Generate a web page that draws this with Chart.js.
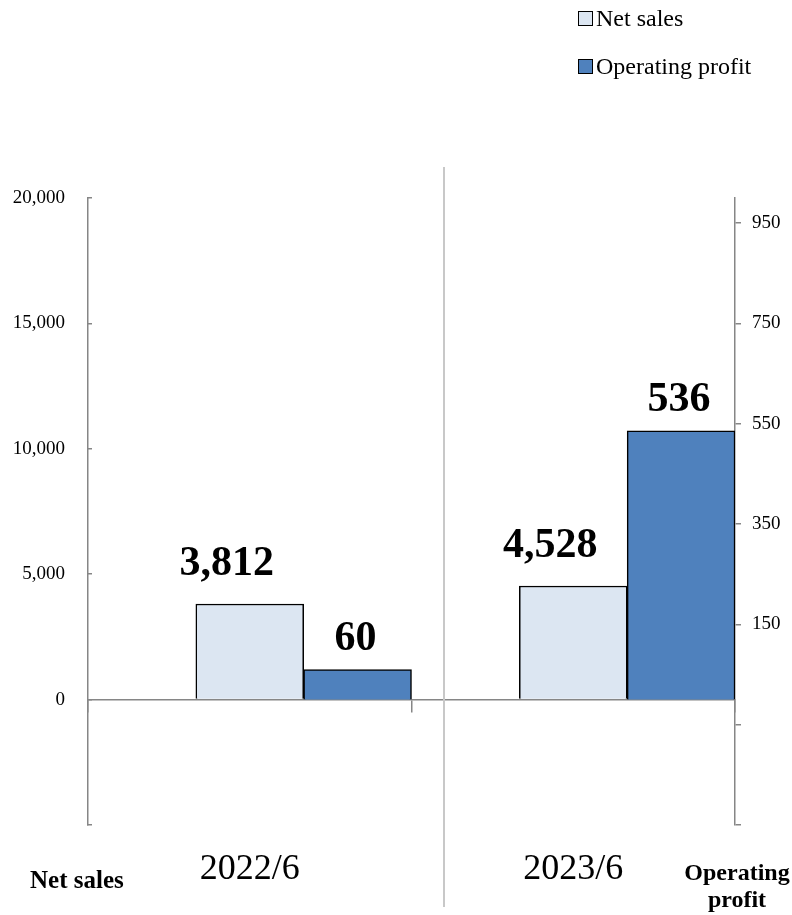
<!DOCTYPE html>
<html>
<head>
<meta charset="utf-8">
<script src="https://cdn.jsdelivr.net/npm/chart.js@4.4.1/dist/chart.umd.min.js"></script>
<style>
  html, body { margin: 0; padding: 0; background: #fff; }
  #wrap { position: relative; width: 792px; height: 915px; }
  #legend {
    position: absolute; left: 578px; top: -6px;
    list-style: none; margin: 0; padding: 0;
    font: 24px "Liberation Serif", "Times New Roman", serif; color: #000;
  }
  #legend li { height: 48px; line-height: 48px; white-space: nowrap; }
  #legend .box {
    display: inline-block; width: 15px; height: 15px; box-sizing: border-box;
    border: 1.5px solid #000; margin-right: 3px;
  }
</style>
</head>
<body>
<div id="wrap">
  <canvas id="resultsChart"></canvas>
  <ul id="legend"></ul>
</div>
<script>
// Periods and results (net sales / operating profit, million yen)
const periods = ['2022/6', '2023/6'];
const netSales = [3812, 4528];
const operatingProfit = [60, 536];

// Axis ticks: left = net sales, right = operating profit
const salesTicks = [-5000, 0, 5000, 10000, 15000, 20000];
const profitTicks = [-250, -50, 150, 350, 550, 750, 950];

const salesCaption = 'Net sales';
const profitCaption = ['Operating', 'profit'];

const SERIF = '"Liberation Serif", "Times New Roman", serif';
const AXIS_GRAY = '#868686';

const fmt = v => v.toLocaleString('en-US');

// Value labels above each bar, nudged per dataset
const barLabels = {
    id: 'barLabels',
    afterDatasetsDraw(chart) {
        const ctx = chart.ctx;
        ctx.save();
        ctx.font = 'bold 42px ' + SERIF;
        ctx.fillStyle = '#000';
        ctx.textAlign = 'center';
        ctx.textBaseline = 'alphabetic';
        chart.data.datasets.forEach((ds, i) => {
            if (!ds.labelOffset) return;
            chart.getDatasetMeta(i).data.forEach((bar, j) => {
                const v = ds.data[j];
                if (v == null) return;
                ctx.fillText(fmt(v), bar.x + ds.labelOffset.x, bar.y - ds.labelOffset.y);
            });
        });
        ctx.restore();
    }
};

// Thin separator between the two periods plus the axis captions at the bottom
const decorations = {
    id: 'decorations',
    afterDraw(chart) {
        const { ctx, chartArea, scales } = chart;
        const x = Math.round(scales.x.getPixelForValue(0.6));
        ctx.save();
        ctx.strokeStyle = '#c8c8c8';
        ctx.lineWidth = 2;
        ctx.beginPath();
        ctx.moveTo(x, chartArea.top - 31);
        ctx.lineTo(x, chart.height - 8);
        ctx.stroke();

        ctx.fillStyle = '#000';
        ctx.textBaseline = 'alphabetic';
        ctx.font = 'bold 25px ' + SERIF;
        ctx.textAlign = 'left';
        ctx.fillText(salesCaption, 30, chartArea.bottom + 63);
        ctx.font = 'bold 24px ' + SERIF;
        ctx.textAlign = 'center';
        profitCaption.forEach((line, i) => {
            ctx.fillText(line, chartArea.right + 2, chartArea.bottom + 55 + i * 27);
        });
        ctx.restore();
    }
};

const ctx = document.getElementById('resultsChart').getContext('2d');
const chart = new Chart(ctx, {
    type: 'bar',
    data: {
        labels: periods,
        datasets: [
            {
                // empty slot keeps the bars in the right two thirds of each period
                label: '',
                data: periods.map(() => null),
                yAxisID: 'y'
            },
            {
                label: 'Net sales',
                data: netSales,
                yAxisID: 'y',
                backgroundColor: '#dce6f2',
                borderColor: '#000',
                borderWidth: 1.5,
                labelOffset: { x: -23, y: 29 }
            },
            {
                label: 'Operating profit',
                data: operatingProfit,
                yAxisID: 'y1',
                backgroundColor: '#4f81bd',
                borderColor: '#000',
                borderWidth: 1.5,
                labelOffset: { x: -2, y: 20 }
            }
        ]
    },
    options: {
        responsive: true,
        maintainAspectRatio: false,
        animation: false,
        categoryPercentage: 1,
        barPercentage: 1,
        layout: { padding: { top: 198, bottom: 90, left: 0, right: 0 } },
        plugins: {
            legend: { display: false },
            tooltip: { enabled: false }
        },
        scales: {
            x: {
                type: 'category',
                position: { y: 0 },
                offset: true,
                z: 1,
                grid: { offset: true, drawOnChartArea: false, color: AXIS_GRAY, lineWidth: 1.5, tickLength: 12 },
                border: { color: AXIS_GRAY, width: 1.5 },
                ticks: { padding: 136, color: '#000', font: { family: SERIF, size: 36 } }
            },
            y: {
                position: 'left',
                min: -5000,
                max: 20000,
                afterBuildTicks: s => { s.ticks = salesTicks.map(v => ({ value: v })); },
                afterFit: s => { s.width = 88; },
                grid: { drawOnChartArea: false, color: AXIS_GRAY, lineWidth: 1.5, tickLength: -4 },
                border: { color: AXIS_GRAY, width: 1.5 },
                ticks: {
                    padding: 27,
                    color: '#000',
                    font: { family: SERIF, size: 19 },
                    callback: v => (v < 0 ? '' : fmt(v))
                }
            },
            y1: {
                position: 'right',
                min: -250,
                max: 1000,
                afterBuildTicks: s => { s.ticks = profitTicks.map(v => ({ value: v })); },
                afterFit: s => { s.width = 57; },
                grid: { drawOnChartArea: false, color: AXIS_GRAY, lineWidth: 1.5, tickLength: 6 },
                border: { color: AXIS_GRAY, width: 1.5 },
                ticks: {
                    padding: 11,
                    color: '#000',
                    font: { family: SERIF, size: 19 },
                    callback: v => (v < 0 ? '' : fmt(v))
                }
            }
        }
    },
    plugins: [barLabels, decorations]
});

// HTML legend built from the chart's own legend items
const legendEl = document.getElementById('legend');
Chart.defaults.plugins.legend.labels.generateLabels(chart)
    .filter(item => item.text)
    .forEach(item => {
        const li = document.createElement('li');
        const box = document.createElement('span');
        box.className = 'box';
        box.style.background = item.fillStyle;
        li.appendChild(box);
        li.appendChild(document.createTextNode(item.text));
        legendEl.appendChild(li);
    });
</script>
</body>
</html>
